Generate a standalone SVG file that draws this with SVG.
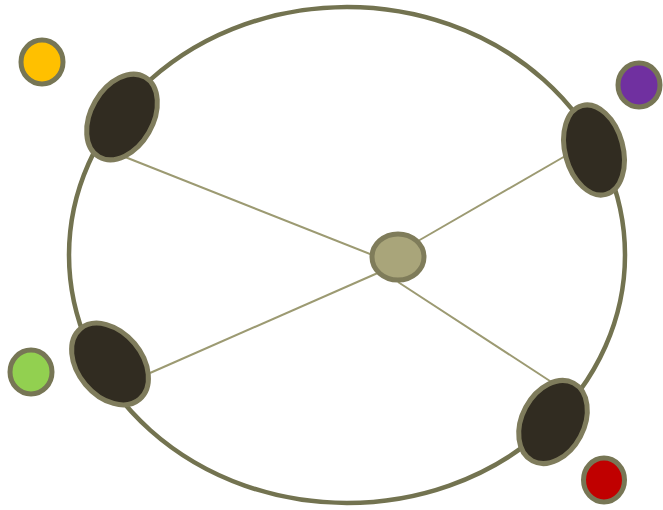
<svg xmlns="http://www.w3.org/2000/svg" width="663" height="510" viewBox="0 0 663 510">
<style>
.ring{fill:none;stroke:#737350;stroke-width:4.5}
.edge{stroke:#9c9a72;stroke-width:2;fill:none}
.dark{fill:#312c21;stroke:#7f7c5c;stroke-width:5}
.hub{fill:#a9a57a;stroke:#7f7c5a;stroke-width:5}
.dot{stroke:#777655;stroke-width:5}
</style>
<rect width="663" height="510" fill="#ffffff"/>
<g id="ring"><ellipse class="ring" cx="347" cy="255" rx="278" ry="248"/></g>
<g id="connectors">
<line class="edge" x1="120" y1="155" x2="375" y2="256"/>
<line class="edge" x1="567" y1="155" x2="418" y2="241"/>
<line class="edge" x1="150" y1="373" x2="380" y2="272"/>
<line class="edge" x1="553" y1="383" x2="398" y2="282"/>
</g>
<g id="node-tl"><ellipse class="dark" cx="0" cy="0" rx="31" ry="46" transform="translate(122,117) rotate(30)"/></g>
<g id="node-tr"><ellipse class="dark" cx="0" cy="0" rx="29" ry="46" transform="translate(594,150) rotate(-15)"/></g>
<g id="node-bl"><ellipse class="dark" cx="0" cy="0" rx="32" ry="46" transform="translate(110,364) rotate(-40)"/></g>
<g id="node-br"><ellipse class="dark" cx="0" cy="0" rx="31" ry="44" transform="translate(553,422) rotate(28)"/></g>
<g id="node-hub"><ellipse class="hub" cx="398" cy="257" rx="26" ry="23"/></g>
<g id="dot-yellow"><ellipse class="dot" cx="42" cy="62" rx="21" ry="22" fill="#ffc000"/></g>
<g id="dot-purple"><ellipse class="dot" cx="639" cy="85" rx="21" ry="22" fill="#7030a0"/></g>
<g id="dot-green"><ellipse class="dot" cx="31" cy="372" rx="21" ry="22" fill="#92d050"/></g>
<g id="dot-red"><ellipse class="dot" cx="604" cy="480" rx="20.5" ry="22" fill="#c00000"/></g>
</svg>
